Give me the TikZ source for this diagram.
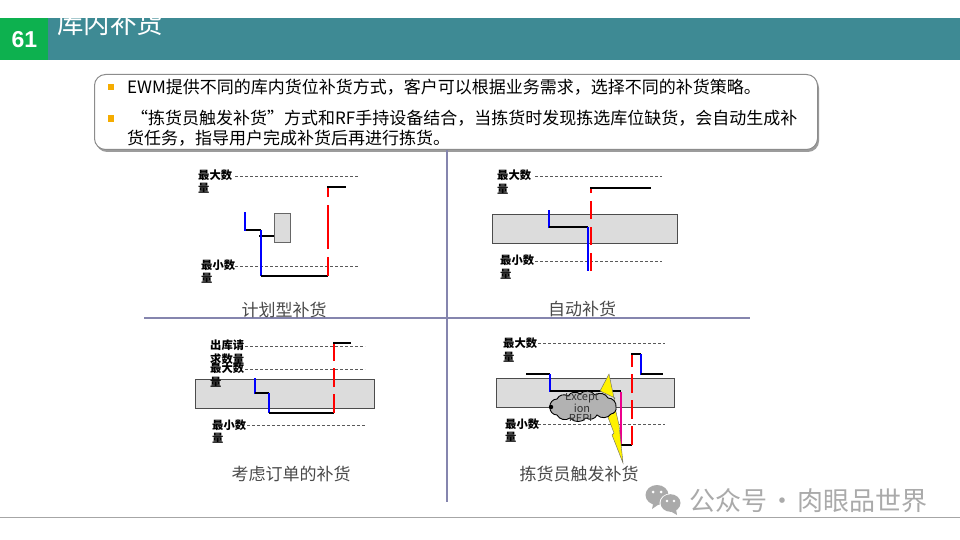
\documentclass[tikz,border=0pt]{standalone}
\usepackage{fontspec}
\setmainfont{Noto Sans CJK SC}
\newfontfamily\latinb{Liberation Sans}
\usetikzlibrary{shadows}
\definecolor{teal1}{HTML}{3E8A94}
\definecolor{green1}{HTML}{0DB14F}
\definecolor{axis1}{HTML}{8585AE}
\definecolor{bullet1}{HTML}{F5AC00}
\definecolor{bar1}{HTML}{DCDCDC}
\definecolor{cap1}{HTML}{4A4A4A}
\definecolor{mark1}{HTML}{AAAAAA}
\tikzset{
  bluel/.style={draw=blue,line width=2.2pt},
  blackl/.style={draw=black,line width=2pt},
  redl/.style={draw=red,line width=2.2pt},
  magl/.style={draw=magenta,line width=2.2pt},
  level/.style={draw=black!65,line width=0.9pt,dash pattern=on 2.5pt off 2.5pt},
  barbox/.style={draw=black!70,line width=1.2pt,fill=bar1},
  lbl/.style={anchor=north west,inner sep=0pt,align=left,font=\fontsize{11.3}{13.4}\selectfont\bfseries,text=black},
  capt/.style={inner sep=0pt,text=cap1,font=\fontsize{17}{19}\selectfont},
  body/.style={anchor=west,inner sep=0pt,text=black,font=\fontsize{17}{20}\selectfont},
  bul/.style={fill=bullet1,draw=none,minimum size=6.5pt,inner sep=0pt},
  puff/.style={bend left=50},
}
\begin{document}
\begin{tikzpicture}[x=1pt,y=-1pt]
\useasboundingbox (0,0) rectangle (960,540);
\fill[white] (0,0) rectangle (960,540);
% header
\fill[teal1] (48,18) rectangle (960,60);
\fill[green1] (0,18) rectangle (48,60);
\node[inner sep=0pt,text=white,font=\fontsize{23}{26}\selectfont\latinb\bfseries] (num) at (24.5,39.5) {61};
\begin{scope}
\clip (48,18) rectangle (960,60);
\node[anchor=west,inner sep=0pt,text=white,font=\fontsize{26.5}{28}\selectfont] (title) at (57,23) {库内补货};
\end{scope}
% text box
\node[anchor=north west,minimum width=723pt,minimum height=75pt,rounded corners=11pt,draw=black!45,line width=1pt,fill=white,inner sep=0pt,
  drop shadow={shadow xshift=1.5pt,shadow yshift=-2.5pt,fill=black!55,opacity=0.7}] (box) at (94,74) {};
\node[bul] (b1) at (111,87) {};
\node[bul] (b2) at (111,118.5) {};
\node[body] (t1) at (127,87) {EWM提供不同的库内货位补货方式，客户可以根据业务需求，选择不同的补货策略。};
\node[body] (t2) at (127,118) {\hspace{4pt}“拣货员触发补货”方式和RF手持设备结合，当拣货时发现拣选库位缺货，会自动生成补};
\node[body] (t3) at (127,138) {货任务，指导用户完成补货后再进行拣货。};
% axes
\draw[axis1,line width=1.4pt] (447,150) -- (447,502);
\draw[axis1,line width=1.4pt] (144,318) -- (750,318);
% chart 1
\draw[level] (235,176) -- (358,176);
\draw[level] (235,266) -- (358,266);
\node[lbl] (a1) at (198,169.5) {最大数\\量};
\node[lbl] (a2) at (201,259.5) {最小数\\量};
\node[barbox,draw=black!60,minimum width=16pt,minimum height=29pt,inner sep=0pt,anchor=north west] (sb) at (274,213) {};
\draw[blackl] (245,230) -- (261,230);
\draw[blackl] (259,236) -- (sb.west |- 0,236);
\draw[bluel] (245,212) -- (245,231);
\draw[bluel] (261,230) -- (261,276);
\draw[blackl] (261,276) -- (328,276);
\draw[redl,dash pattern=on 44pt off 8pt,dash phase=25pt] (328,276) -- (328,187);
\draw[blackl] (327,187) -- (346,187);
\node[capt] (c1) at (284,310) {计划型补货};
% chart 2
\draw[level] (535,176) -- (662,176);
\draw[level] (535,261) -- (662,261);
\node[lbl] (a3) at (497,170) {最大数\\量};
\node[lbl] (a4) at (500,255) {最小数\\量};
\node[barbox,minimum width=185pt,minimum height=29pt,inner sep=0pt,anchor=north west] (b2box) at (492,214) {};
\draw[bluel] (549,210) -- (549,228);
\draw[blackl] (549,227) -- (588,227);
\draw[redl,dash pattern=on 18pt off 8pt] (591,271) -- (591,188);
\draw[bluel] (588,227) -- (588,271);
\draw[blackl] (590,188) -- (651,188);
\node[capt] (c2) at (582,309) {自动补货};
% chart 3
\draw[level] (245,346) -- (365,346);
\draw[level] (245,369) -- (365,369);
\draw[level] (247,425) -- (365,425);
\node[barbox,minimum width=179pt,minimum height=29pt,inner sep=0pt,anchor=north west] (b3box) at (195,379) {};
\node[lbl] (a5) at (210,340) {出库请\\求数量};
\node[lbl] (a6) at (210,363) {最大数\\量};
\node[lbl] (a7) at (212,419.5) {最小数\\量};
\draw[bluel] (255,378) -- (255,394);
\draw[blackl] (255,393) -- (269,393);
\draw[bluel] (269,393) -- (269,413);
\draw[blackl] (269,413) -- (334,413);
\draw[redl,dash pattern=on 19pt off 7pt] (334,413) -- (334,343);
\draw[blackl] (333,343) -- (351,343);
\node[capt] (c3) at (291,474) {考虑订单的补货};
% chart 4
\draw[level] (538,343.5) -- (665,343.5);
\draw[level] (538,424) -- (665,424);
\node[lbl] (a8) at (503,338) {最大数\\量};
\node[lbl] (a9) at (505,418.5) {最小数\\量};
\node[barbox,minimum width=178pt,minimum height=29pt,inner sep=0pt,anchor=north west] (b4box) at (496,378) {};
\draw[blackl] (526,374) -- (550,374);
\draw[bluel] (550,374) -- (550,392);
\draw[blackl] (550,391) -- (621,391);
\draw[magl] (621,392) -- (621,445);
\draw[blackl] (621,445) -- (632,445);
\draw[redl,dash pattern=on 19pt off 7pt] (632,445) -- (632,354);
\draw[blackl] (631,354) -- (641,354);
\draw[bluel] (641,354) -- (641,375);
\draw[blackl] (641,374) -- (663,374);
\fill[yellow,draw=black!60,line width=0.4pt] (609,374) -- (600,391) -- (615,398) -- (606,412) -- (614,433) -- (612,435) -- (623,463) -- (619,425) -- (616,412) -- (614,398) -- cycle;
\draw[black,line width=0.9pt,fill=black!30] (550,407) to[puff] (557,399) to[puff] (568,396) to[puff] (580,394) to[puff] (595,395) to[puff] (608,398) to[puff] (616,407) to[puff] (611,414) to[puff] (597,415) to[puff] (586,418) to[puff] (570,418) to[puff] (557,415) to[puff] (550,407) -- cycle;
\fill[black] (551,407) circle (2.2);
\begin{scope}
\clip (548,393.5) rectangle (617,420);
\node[inner sep=0pt,align=center,font=\fontsize{11}{10}\selectfont,text=black!80] (clt) at (582,407) {Except\\ion\\REPL};
\end{scope}
\node[capt] (c4) at (579,474) {拣货员触发补货};
% footer
\draw[black!35,line width=1pt] (0,517) -- (960,517);
\fill[mark1] (657,495) ellipse (11.5 and 10);
\fill[mark1] (660,503.5) -- (652,509) -- (654,500) -- cycle;
\fill[white] (670.5,503) ellipse (11 and 9.5);
\fill[mark1] (670.5,503) ellipse (10 and 8.8);
\fill[mark1] (676,509) -- (677,515) -- (670,511) -- cycle;
\fill[white] (653,492) circle (1.5) (661,492) circle (1.5) (667,501) circle (1.3) (674,501) circle (1.3);
\node[anchor=west,inner sep=0pt,text=mark1,font=\fontsize{26}{28}\selectfont] (wm) at (689,501) {公众号\hspace{2pt}·\hspace{2pt}肉眼品世界};
\end{tikzpicture}
\end{document}
